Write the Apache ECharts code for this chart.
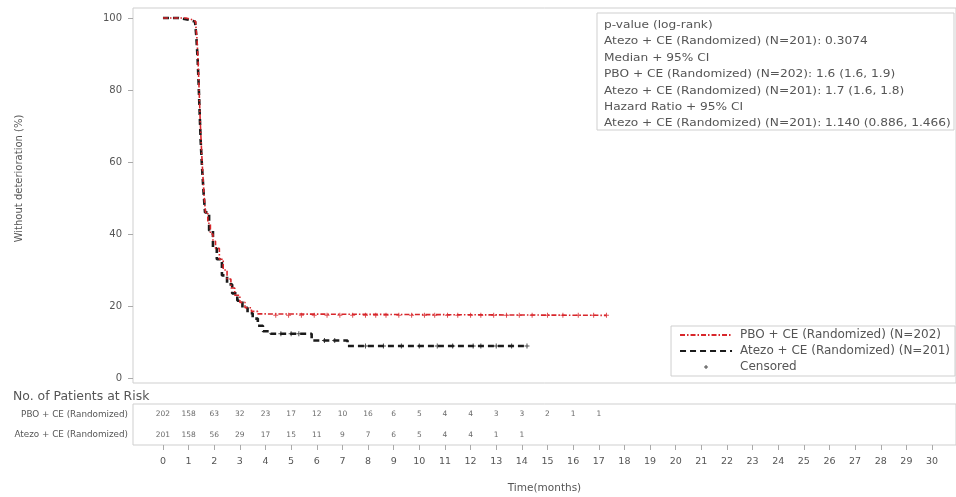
<!DOCTYPE html>
<html>
<head>
<meta charset="utf-8">
<script src="https://cdn.jsdelivr.net/npm/echarts@6/dist/echarts.min.js"></script>
<style>html,body{margin:0;padding:0;background:#fff;}#c{width:956px;height:497px;}</style>
</head>
<body>
<div id="c"></div>
<script>
// ---- data ----
const pboName = 'PBO + CE (Randomized) (N=202)';
const atezoName = 'Atezo + CE (Randomized) (N=201)';
const pboTime = [0, 0.9, 1.15, 1.28, 1.33, 1.37, 1.41, 1.45, 1.5, 1.55, 1.6, 1.66, 1.75, 1.85, 1.95, 2.05, 2.2, 2.35, 2.5, 2.65, 2.8, 3.0, 3.2, 3.45, 3.7, 4.0, 17.3];
const pboSurv = [100, 99.5, 99, 98, 94, 88, 80, 72, 64, 57, 51, 46, 43, 40, 38, 36, 33, 30, 27.5, 25, 23, 21, 19.5, 18.5, 17.8, 17.4, 17.4];
const atezoTime = [0, 0.6, 1.0, 1.25, 1.3, 1.35, 1.39, 1.43, 1.47, 1.52, 1.58, 1.64, 1.8, 1.95, 2.1, 2.3, 2.5, 2.7, 2.9, 3.1, 3.3, 3.5, 3.7, 3.9, 4.2, 5.8, 7.2, 14.2];
const atezoSurv = [100, 99.5, 99, 98.5, 95, 89, 82, 74, 66, 59, 52, 46, 41, 36, 33, 28.5, 26, 23.5, 21.5, 19.5, 18, 16.5, 14.5, 13, 12.3, 10.4, 8.9, 8.9];
const pboCensor = [4.4, 4.9, 5.4, 5.9, 6.4, 6.9, 7.4, 7.9, 8.3, 8.7, 9.2, 9.7, 10.2, 10.6, 11.1, 11.5, 12.0, 12.4, 12.9, 13.4, 13.9, 14.4, 15.0, 15.6, 16.2, 16.8, 17.3];
const atezoCensor = [4.6, 5.0, 5.3, 6.3, 6.7, 7.9, 8.6, 9.3, 10.0, 10.7, 11.3, 12.1, 12.4, 13.0, 13.6, 14.2];
const riskMonths = [0,1,2,3,4,5,6,7,8,9,10,11,12,13,14,15,16,17];
const pboRisk = [202,158,63,32,23,17,12,10,16,6,5,4,4,3,3,2,1,1];
const atezoRisk = [201,158,56,29,17,15,11,9,7,6,5,4,4,1,1];
const rowLabels = ['Atezo + CE (Randomized)', 'PBO + CE (Randomized)'];
const yTicks = [0, 20, 40, 60, 80, 100];
const xTicks = [0,1,2,3,4,5,6,7,8,9,10,11,12,13,14,15,16,17,18,19,20,21,22,23,24,25,26,27,28,29,30];
const infoLines = [
  'p-value (log-rank)',
  'Atezo + CE (Randomized) (N=201): 0.3074',
  'Median + 95% CI',
  'PBO + CE (Randomized) (N=202): 1.6 (1.6, 1.9)',
  'Atezo + CE (Randomized) (N=201): 1.7 (1.6, 1.8)',
  'Hazard Ratio + 95% CI',
  'Atezo + CE (Randomized) (N=201): 1.140 (0.886, 1.466)'
];

// ---- build ----
const FONT = 'DejaVu Sans';
const xMin = -1.169, xMax = 30.935;
function zip(t, s) { return t.map((v, i) => [v, s[i]]); }
function survAt(t, times, surv) {
  let v = surv[0];
  for (let i = 0; i < times.length; i++) { if (times[i] <= t) v = surv[i]; }
  return v;
}
const plusPath = 'path://M4,0H6V4H10V6H6V10H4V6H0V4H4Z';
const smallPlus = 'path://M0,0h0.01v0.01zM24,24h0.01v0.01zM11,8h2v3h3v2h-3v3h-2v-3h-3v-2h3z';
const RED = '#d8262b', BLACK = '#1b1b1b';

const chart = echarts.init(document.getElementById('c'), null, {renderer: 'canvas'});
chart.setOption({
  animation: false,
  textStyle: {fontFamily: FONT},
  grid: [
    {left: 133, right: -1, top: 8, height: 375, show: true, borderColor: '#cfcfcf', borderWidth: 1},
    {left: 133, right: -1, top: 404, height: 41, show: true, borderColor: '#cfcfcf', borderWidth: 1}
  ],
  xAxis: [
    {type: 'value', gridIndex: 0, min: xMin, max: xMax, axisLine: {show: false, onZero: false}, axisTick: {show: false}, axisLabel: {show: false}, splitLine: {show: false}},
    {type: 'value', gridIndex: 1, min: xMin, max: xMax, position: 'bottom',
     axisLine: {show: false, onZero: false},
     axisTick: {show: true, customValues: xTicks, length: 5, lineStyle: {color: '#aaa'}},
     axisLabel: {show: true, customValues: xTicks, margin: 12, fontSize: 9.5, color: '#555', fontFamily: FONT},
     splitLine: {show: false},
     name: 'Time(months)', nameLocation: 'middle', nameGap: 38,
     nameTextStyle: {fontSize: 10.5, color: '#555', fontFamily: FONT}}
  ],
  yAxis: [
    {type: 'value', gridIndex: 0, min: -1.39, max: 102.78, position: 'left',
     axisLine: {show: false, onZero: false},
     axisTick: {show: true, customValues: yTicks, length: 5, lineStyle: {color: '#aaa'}},
     axisLabel: {show: true, customValues: yTicks, margin: 11, fontSize: 10, color: '#555', fontFamily: FONT},
     splitLine: {show: false},
     name: 'Without deterioration (%)', nameLocation: 'middle', nameGap: 109,
     nameTextStyle: {fontSize: 10, color: '#555', fontFamily: FONT, padding: [0, 0, 0, 34]}},
    {type: 'category', gridIndex: 1, data: rowLabels, position: 'left',
     axisLine: {show: false, onZero: false}, axisTick: {show: false},
     axisLabel: {fontSize: 8.8, color: '#555', margin: 5, fontFamily: FONT}}
  ],
  legend: {
    orient: 'vertical', right: 1, top: 326,
    backgroundColor: '#fff', borderColor: '#cfcfcf', borderWidth: 1,
    padding: [3, 5, 3, 8], itemGap: 4, itemWidth: 52, itemHeight: 12,
    textStyle: {fontSize: 12, color: '#555', fontFamily: FONT, padding: [0, 0, 0, 3]},
    data: [
      {name: pboName, itemStyle: {opacity: 0}},
      {name: atezoName, itemStyle: {opacity: 0}},
      {name: 'Censored', icon: smallPlus, itemStyle: {color: BLACK}}
    ]
  },
  graphic: [
    {type: 'rect', shape: {x: 597, y: 13, width: 357, height: 117}, style: {fill: '#fff', stroke: '#cfcfcf', lineWidth: 1}, z: 10},
    {type: 'text', x: 604, y: 17, scaleX: 1.16, z: 11,
     style: {text: infoLines.join('\n'), fontFamily: FONT, fontSize: 10.5, lineHeight: 16.4, fill: '#555', textAlign: 'left', textVerticalAlign: 'top'}},
    {type: 'text', x: 13, y: 391, scaleX: 1.08,
     style: {text: 'No. of Patients at Risk', fontFamily: FONT, fontSize: 11.5, fill: '#555', textVerticalAlign: 'top'}}
  ],
  series: [
    {name: pboName, type: 'line', xAxisIndex: 0, yAxisIndex: 0, step: 'end', symbol: 'none', showSymbol: false,
     data: zip(pboTime, pboSurv), lineStyle: {color: RED, width: 1.6, type: [5, 2, 1.5, 2]}, itemStyle: {color: RED}, z: 3},
    {name: atezoName, type: 'line', xAxisIndex: 0, yAxisIndex: 0, step: 'end', symbol: 'none', showSymbol: false,
     data: zip(atezoTime, atezoSurv), lineStyle: {color: BLACK, width: 2.6, type: [6, 4]}, itemStyle: {color: BLACK}, z: 2},
    {name: 'Censored', type: 'scatter', xAxisIndex: 0, yAxisIndex: 0, symbol: plusPath, symbolSize: 5,
     data: atezoCensor.map(t => [t, survAt(t, atezoTime, atezoSurv)]), itemStyle: {color: BLACK}, z: 4},
    {name: 'Censored', type: 'scatter', xAxisIndex: 0, yAxisIndex: 0, symbol: plusPath, symbolSize: 5,
     data: pboCensor.map(t => [t, survAt(t, pboTime, pboSurv)]), itemStyle: {color: RED}, z: 4},
    {name: 'riskPBO', type: 'scatter', xAxisIndex: 1, yAxisIndex: 1, symbolSize: 0,
     data: pboRisk.map((v, i) => [riskMonths[i], rowLabels[1], v]),
     label: {show: true, position: 'inside', formatter: p => String(p.value[2]), fontSize: 7.5, color: '#444', fontFamily: FONT}},
    {name: 'riskAtezo', type: 'scatter', xAxisIndex: 1, yAxisIndex: 1, symbolSize: 0,
     data: atezoRisk.map((v, i) => [riskMonths[i], rowLabels[0], v]),
     label: {show: true, position: 'inside', formatter: p => String(p.value[2]), fontSize: 7.5, color: '#444', fontFamily: FONT}}
  ]
});
</script>
</body>
</html>
